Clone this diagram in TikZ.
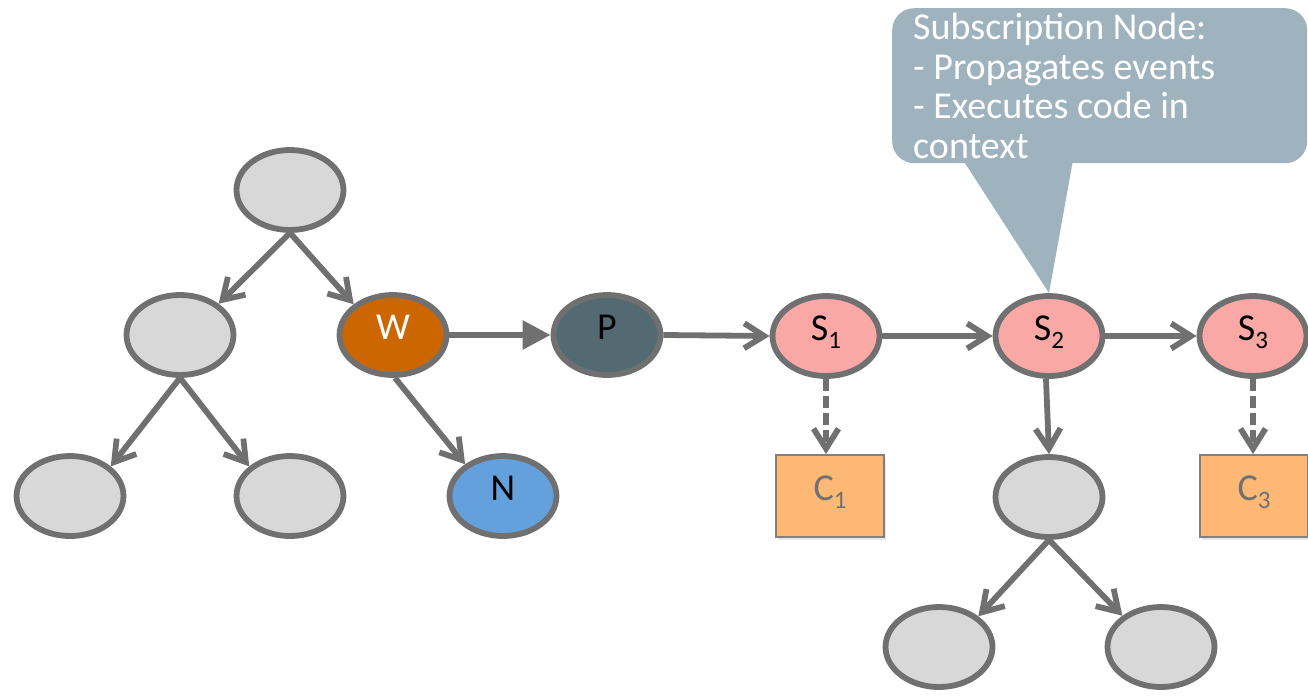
\documentclass[tikz,border=0pt]{standalone}
\usepackage{fontspec}
\setmainfont{Carlito}
\usetikzlibrary{arrows.meta,shapes.geometric,shadows}

\definecolor{edgegray}{HTML}{707070}
\definecolor{plaingray}{HTML}{D8D8D8}
\definecolor{wfill}{HTML}{CC6600}
\definecolor{pfill}{HTML}{546A73}
\definecolor{nfill}{HTML}{64A0DC}
\definecolor{sfill}{HTML}{F9A8A6}
\definecolor{cfill}{HTML}{FCB874}
\definecolor{cborder}{HTML}{808080}
\definecolor{ctext}{HTML}{707070}
\definecolor{calloutblue}{HTML}{9FB3BE}

% lowered, smaller index after a letter
\newcommand{\idx}[1]{\raisebox{-0.22em}{\fontsize{25}{25}\selectfont #1}}

\begin{document}
\begin{tikzpicture}[x=1pt,y=-1pt,
  every node/.style={font=\fontsize{38}{39.7}\selectfont},
  blob/.style={ellipse, draw=edgegray, line width=5.8pt, fill=plaingray,
    minimum width=107pt, minimum height=80pt, inner sep=0pt,
    text height=0.8em, text depth=0pt,
    drop shadow={opacity=0.18, shadow xshift=1.5pt, shadow yshift=-2.5pt}},
  consumer/.style={rectangle, draw=cborder, line width=1.8pt, fill=cfill,
    text=ctext, minimum width=108pt, minimum height=82pt, inner sep=0pt,
    text height=0.8em, text depth=0pt,
    drop shadow={opacity=0.18, shadow xshift=1.5pt, shadow yshift=-2.5pt}},
  link/.style={draw=edgegray, line width=5.8pt,
    -{Straight Barb[length=20pt,width=25pt]}},
  push/.style={draw=edgegray, line width=5.8pt,
    -{Triangle[length=28pt,width=28pt]}},
  weak/.style={link, dash pattern=on 12pt off 5pt}
]
\clip (0,0) rectangle (1308,697);
\useasboundingbox (0,0) rectangle (1308,697);

% callout describing the subscription node
\node[fill=calloutblue, rounded corners=22pt, minimum width=415pt,
  minimum height=155pt, anchor=north west, inner sep=0pt] (note) at (892,8) {};

% left tree
\node[blob] (root) at (290,190) {};
\node[blob] (lm) at (180,335) {};
\node[blob] (bl) at (70,496) {};
\node[blob] (br) at (290,496) {};
\node[blob, fill=wfill, text=white] (W) at (393,335) {W};
\node[blob, fill=nfill] (N) at (503,496) {N};
\node[blob, fill=pfill] (P) at (607,335) {P};

% subscription chain
\node[blob, fill=sfill] (S1) at (826,336) {S\idx{1}};
\node[blob, fill=sfill] (S2) at (1049,336) {S\idx{2}};
\node[blob, fill=sfill] (S3) at (1253,336) {S\idx{3}};
\node[consumer] (C1) at (830,496) {C\idx{1}};
\node[consumer] (C3) at (1254,496) {C\idx{3}};
\node[blob] (sc) at (1049,497) {};
\node[blob] (scl) at (939,647) {};
\node[blob] (scr) at (1161,647) {};

% callout tail and text
\fill[calloutblue] (963,160) -- (S2.north) -- (1073,160) -- cycle;
\node[anchor=north west, align=left, inner sep=0pt, text=white] (notetext)
  at (913,13) {Subscription Node:\\- Propagates events\\- Executes code in\\context};

% connectors
\draw[link] (root.south) -- (lm.39);
\draw[link] (root.south) -- (W.142);
\draw[link] (lm.south) -- (bl.36);
\draw[link] (lm.south) -- (br.144);
\draw[link] ([xshift=2pt]W.south) -- (N.140);
\draw[push] (W.east) -- (P.west);
\draw[link] (P.east) -- (S1.west);
\draw[link] (S1.east) -- (S2.west);
\draw[link] (S2.east) -- (S3.west);
\draw[weak] (S1.south) -- (S1.south |- C1.north);
\draw[weak] (S3.south) -- (S3.south |- C3.north);
\draw[link] ([xshift=-3pt]S2.south) -- (sc.north);
\draw[link] (sc.south) -- (scl.38);
\draw[link] (sc.south) -- (scr.141);
\end{tikzpicture}
\end{document}
